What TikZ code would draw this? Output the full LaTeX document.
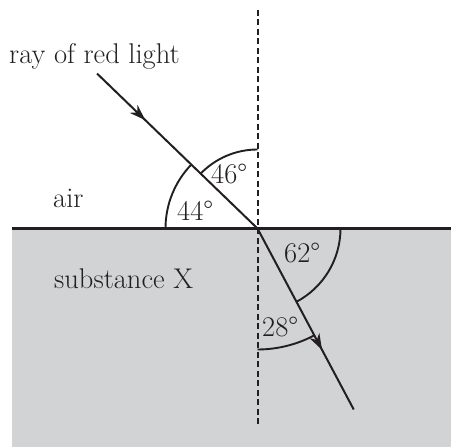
\documentclass[tikz,border=0pt]{standalone}
\usepackage{fontspec}
\usetikzlibrary{arrows.meta,decorations.markings}
\definecolor{subst}{RGB}{209,211,212}
\definecolor{ink}{RGB}{35,31,32}
\begin{document}
\begin{tikzpicture}[x=1pt,y=1pt,
  lbl/.style={anchor=base west,inner sep=0pt,text=ink,font=\fontsize{28.5}{33}\selectfont},
  ray/.style={line width=2pt,draw=ink},
  ang/.style={line width=1.9pt,draw=ink},
  midarrow/.style={postaction={decorate},decoration={markings,mark=at position #1 with {\arrow[ink]{Stealth[length=16pt,width=11pt,inset=5pt]}}}}]
\useasboundingbox (0,0) rectangle (451,447);
\fill[subst] (12,0) rectangle (451,218.5);
\coordinate (O) at (257.5,218.5);
\coordinate (L) at (12,218.5);
\coordinate (R) at (451,218.5);
\coordinate (Ntop) at (257.5,437);
\coordinate (Nbot) at (257.5,20);
\path (O) ++(136:223) coordinate (S);
\path (O) ++(-62:205) coordinate (E);
\draw[line width=2.3pt,draw=ink] (L) -- (R);
\draw[line width=2pt,draw=ink,dash pattern=on 6pt off 3.5pt] (Ntop) -- (Nbot);
\draw[ray,midarrow=0.3] (S) -- (O);
\draw[ray,midarrow=0.67] (O) -- (E);
\draw[ang] (O) ++(180:92) arc[start angle=180,end angle=136,radius=92];
\draw[ang] (O) ++(136:79) arc[start angle=136,end angle=90,radius=79];
\draw[ang] (O) ++(0:83) arc[start angle=0,end angle=-62,radius=83];
\draw[ang] (O) ++(-62:121) arc[start angle=-62,end angle=-90,radius=121];
\node[lbl] (tray) at (9,383) {ray of red light};
\node[lbl] (tair) at (53,239) {air};
\node[lbl] (tsub) at (54,158) {substance X};
\node[lbl] (a44) at (177,226) {44°};
\node[lbl] (a46) at (211,263) {46°};
\node[lbl] (a62) at (284,184) {62°};
\node[lbl] (a28) at (262,110) {28°};
\end{tikzpicture}
\end{document}
